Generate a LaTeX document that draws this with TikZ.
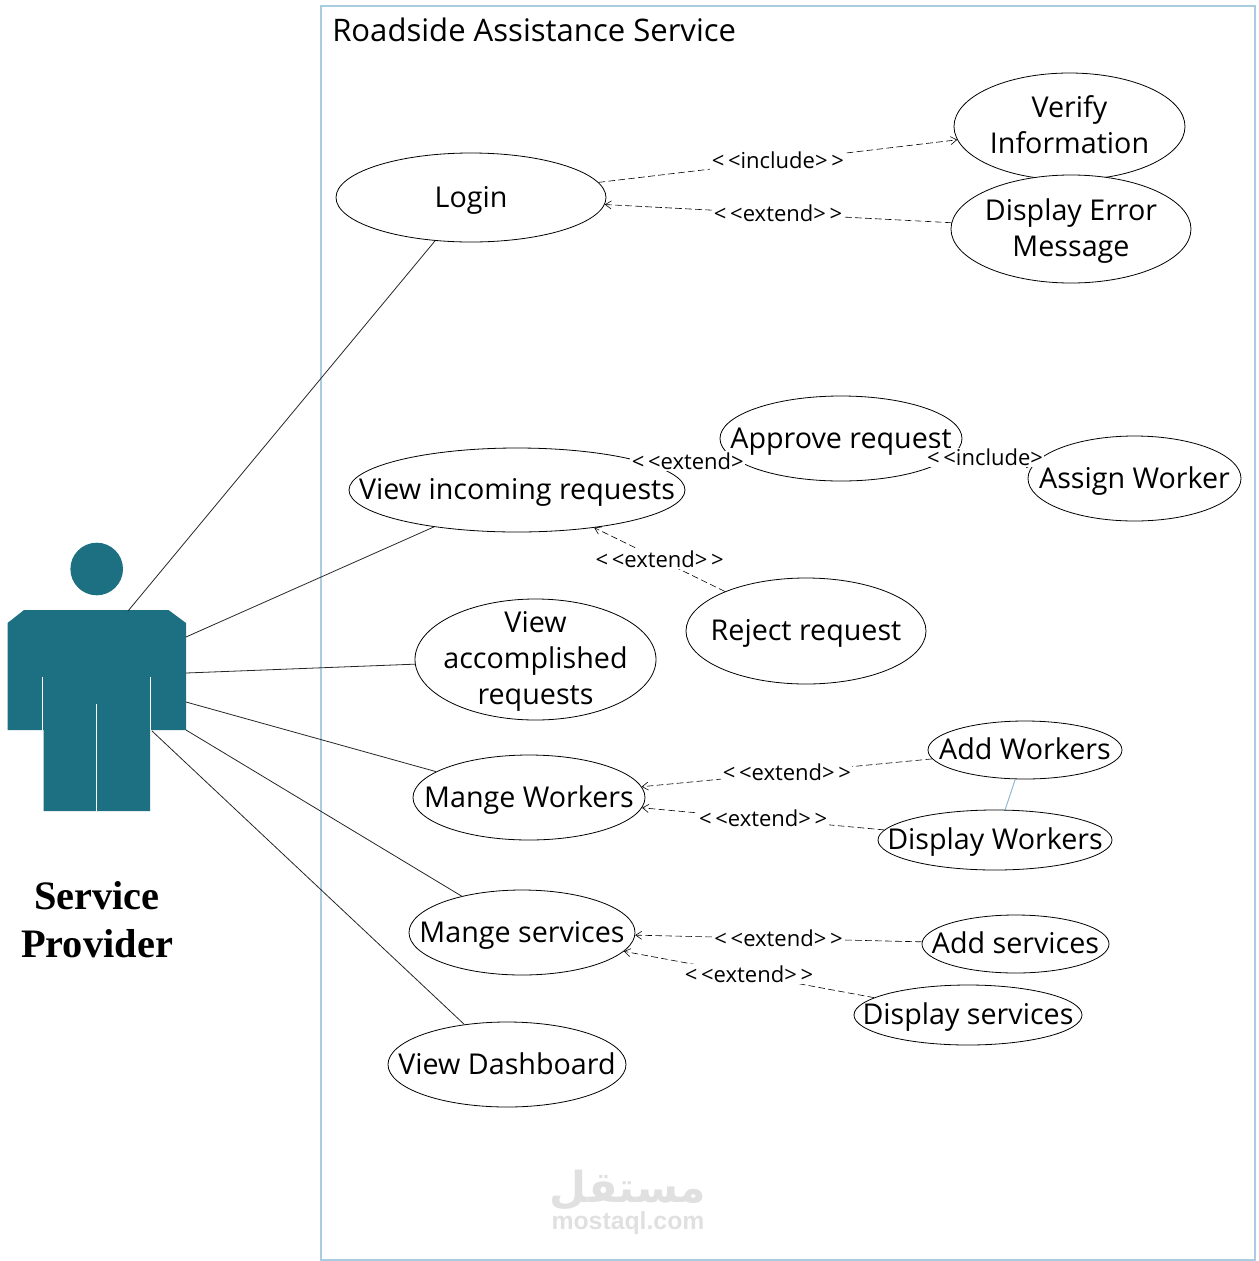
\documentclass[tikz,border=0pt]{standalone}
\usepackage{fontspec}
\setmainfont{Open Sans}
\newfontfamily\actorfont{Liberation Serif}
\newfontfamily\markfont{Liberation Sans}
\newfontfamily\arabicfont[Script=Arabic]{DejaVu Sans}
\TeXXeTstate=1
\usetikzlibrary{arrows.meta, positioning, shapes.geometric, calc}
\definecolor{actorteal}{HTML}{1D6F82}
\definecolor{frameblue}{HTML}{A9CCE0}
\definecolor{linkblue}{HTML}{8DB6D0}
\definecolor{markgray}{HTML}{E0E0E0}
\newcommand{\ucstrut}{\rule[-6pt]{0pt}{26.5pt}}
\newcommand{\topstrut}{\rule{0pt}{19.5pt}}
\tikzset{
  usecase/.style={draw, ellipse, inner xsep=-60pt, inner ysep=-25pt, line width=0.6pt, fill=white, align=center,
    font=\fontsize{21.5}{27}\selectfont, execute at begin node=\ucstrut, execute at end node=\ucstrut},
  dep/.style={dashed, dash pattern=on 5pt off 2.5pt, line width=0.45pt, -{Straight Barb[length=4.5pt,width=6pt]}},
  steretype/.style={fill=white, inner sep=1pt, yshift=0.5pt, font=\fontsize{16.5}{18}\selectfont},
  assoc/.style={line width=0.6pt, black!85}
}
\newcommand{\ucase}[6]{\node[usecase, minimum width=#4*0.75pt, minimum height=#5*0.75pt] (#1) at (#2,#3) {#6};}
\begin{document}
\begin{tikzpicture}[x=0.75pt, y=-0.75pt, >=Latex]
  \useasboundingbox (0,0) rectangle (1258,1261);

  % --- System frame
  \draw[frameblue, line width=0.8pt] (321,6) rectangle (1255,1260);
  \node[anchor=west, inner sep=0pt, font=\fontsize{23.3}{27}\selectfont] (title) at (332,30) {Roadside Assistance Service};

  % --- Watermark
  \node[markgray, inner sep=0pt, font=\fontsize{32}{34}\bfseries] (markar) at (628,1190) {\arabicfont\beginR مستقل\endR};
  \node[markgray, inner sep=0pt, font=\fontsize{18.6}{20}\bfseries] (marklat) at (628,1223) {\markfont mostaql.com};

  % --- Actor
  \fill[actorteal] (96.7,569) circle (26.3);
  \fill[actorteal] (24,610) -- (168.5,610) -- (186,623) -- (186,730) -- (150,730) -- (150,811)
    -- (43.5,811) -- (43.5,730) -- (7.5,730) -- (7.5,623) -- cycle;
  \draw[white, line width=0.7pt] (42.5,677) -- (42.5,730);
  \draw[white, line width=0.7pt] (150.5,677) -- (150.5,730);
  \draw[white, line width=0.7pt] (96.7,704) -- (96.7,811);
  \node[align=center, inner sep=0pt, font=\fontsize{30.3}{36}\selectfont\actorfont\bfseries] (provider) at (97,920) {Service\\Provider};

  % --- Attachment points on the actor
  \coordinate (p1) at (128,611);
  \coordinate (p2) at (186,637);
  \coordinate (p3) at (186,673);
  \coordinate (p4) at (186,702);
  \coordinate (p5) at (186,730);
  \coordinate (p6) at (152,731);

  % --- Use cases
  \ucase{login}{471}{197.5}{270}{89}{Login}
  \ucase{verify}{1069.5}{126.5}{231}{107}{\topstrut Verify\\Information}
  \ucase{error}{1071}{229}{240}{108}{\topstrut Display Error\\Message}
  \ucase{incoming}{517}{490}{336}{84}{View incoming requests}
  \ucase{approve}{841}{438.5}{242}{85}{Approve request}
  \ucase{assign}{1134.5}{478.5}{213}{85}{Assign Worker}
  \ucase{reject}{806}{631}{240}{106}{Reject request}
  \ucase{accomp}{535.5}{659.5}{241}{121}{\topstrut View\\accomplished\\requests}
  \ucase{workers}{529}{797.5}{232}{85}{Mange Workers}
  \ucase{addw}{1025}{750}{194}{58}{Add Workers}
  \ucase{dispw}{995}{840}{234}{60}{Display Workers}
  \ucase{services}{522}{932.5}{226}{85}{Mange services}
  \ucase{adds}{1015.5}{944}{187}{58}{Add services}
  \ucase{disps}{968}{1015}{228}{60}{Display services}
  \ucase{dash}{507}{1064.5}{238}{85}{View Dashboard}

  % --- Actor associations
  \draw[assoc] (p1) -- (login);
  \draw[assoc] (p2) -- (incoming);
  \draw[assoc] (p3) -- (accomp);
  \draw[assoc] (p4) -- (workers);
  \draw[assoc] (p5) -- (services);
  \draw[assoc] (p6) -- (dash);

  % --- Dependencies
  \draw[dep] (login) -- node[steretype] {<\,<include>\,>} (verify);
  \draw[dep] (error) -- node[steretype] {<\,<extend>\,>} (login);
  \draw[dep] (incoming) -- node[steretype, pos=0.4, yshift=1pt] {<\,<extend>} (approve);
  \draw[dep] (approve) -- node[steretype, pos=0.39] {<\,<include>} (assign);
  \draw[dep] (reject) -- node[steretype] {<\,<extend>\,>} (incoming);
  \draw[dep] (addw) -- node[steretype] {<\,<extend>\,>} (workers);
  \draw[dep] (dispw) -- node[steretype] {<\,<extend>\,>} (workers);
  \draw[dep] (adds) -- node[steretype] {<\,<extend>\,>} (services);
  \draw[dep] (disps) -- node[steretype] {<\,<extend>\,>} (services);
  \draw[linkblue, line width=0.7pt] (addw) -- (dispw);
\end{tikzpicture}
\end{document}
